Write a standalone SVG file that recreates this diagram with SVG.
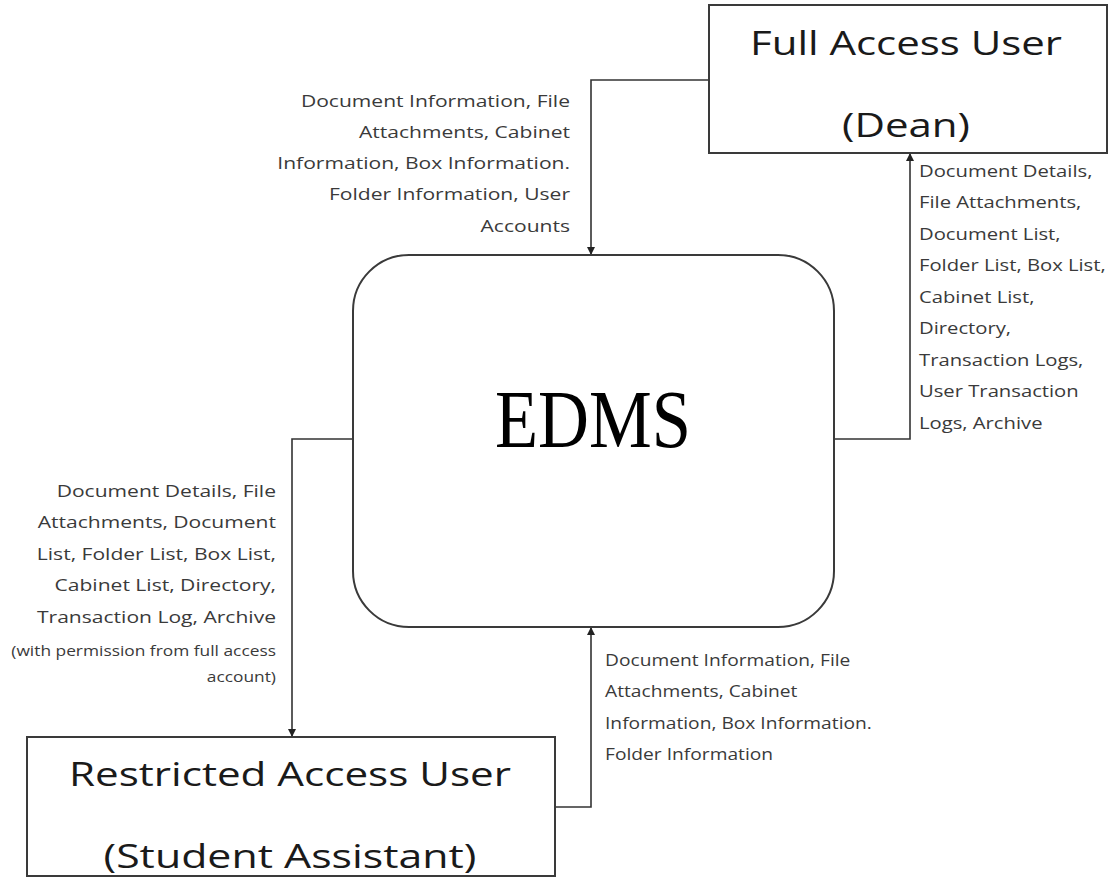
<svg xmlns="http://www.w3.org/2000/svg" width="1119" height="878" viewBox="0 0 1119 878">
  <defs>
    <marker id="arrow" viewBox="0 0 10 10" refX="10" refY="5" markerWidth="9" markerHeight="8" markerUnits="userSpaceOnUse" orient="auto">
      <path d="M0,0 L10,5 L0,10 z" fill="#222"/>
    </marker>
    <style>
      .box { fill: #fff; stroke: #3a3a3a; stroke-width: 2; }
      .node { font-family: "Open Sans", "Liberation Sans", sans-serif; font-size: 33px; fill: #1a1a1a; text-anchor: middle; }
      .edms { font-family: "Liberation Serif", "Times New Roman", serif; font-size: 83px; fill: #000; text-anchor: middle; }
      .conn { fill: none; stroke: #333; stroke-width: 1.6; marker-end: url(#arrow); }
      .lbl { font-family: "Open Sans", "Liberation Sans", sans-serif; font-size: 17px; fill: #3a3a3a; }
      .small { font-size: 14px; }
      .end { text-anchor: end; }
      .start { text-anchor: start; }
    </style>
  </defs>
  <rect width="1119" height="878" fill="#fff"/>

  <g id="connectors">
    <path class="conn" d="M709,80 H591 V255"/>
    <path class="conn" d="M834,439 H910 V153"/>
    <path class="conn" d="M353,439 H292 V737"/>
    <path class="conn" d="M555,807 H591 V627"/>
  </g>

  <g id="node-full-access">
    <rect class="box" x="709" y="5" width="398" height="148"/>
    <text class="node" x="906" y="55" textLength="312" lengthAdjust="spacingAndGlyphs">Full Access User</text>
    <text class="node" x="906" y="137" textLength="128" lengthAdjust="spacingAndGlyphs">(Dean)</text>
  </g>

  <g id="node-edms">
    <rect class="box" x="353" y="255" width="481" height="372" rx="56" ry="56"/>
    <text class="edms" x="593" y="447" textLength="196" lengthAdjust="spacingAndGlyphs">EDMS</text>
  </g>

  <g id="node-restricted">
    <rect class="box" x="27" y="737" width="528" height="139"/>
    <text class="node" x="290" y="786" textLength="442" lengthAdjust="spacingAndGlyphs">Restricted Access User</text>
    <text class="node" x="290" y="868" textLength="373" lengthAdjust="spacingAndGlyphs">(Student Assistant)</text>
  </g>

  <g id="labels">
    <g transform="translate(570,0) scale(1.24,1)">
      <text class="lbl end" x="0" y="107">Document Information, File</text>
      <text class="lbl end" x="0" y="138">Attachments, Cabinet</text>
      <text class="lbl end" x="0" y="169">Information, Box Information.</text>
      <text class="lbl end" x="0" y="200">Folder Information, User</text>
      <text class="lbl end" x="0" y="232">Accounts</text>
    </g>
    <g transform="translate(919,0) scale(1.19,1)">
      <text class="lbl start" x="0" y="177">Document Details,</text>
      <text class="lbl start" x="0" y="208">File Attachments,</text>
      <text class="lbl start" x="0" y="240">Document List,</text>
      <text class="lbl start" x="0" y="271">Folder List, Box List,</text>
      <text class="lbl start" x="0" y="303">Cabinet List,</text>
      <text class="lbl start" x="0" y="334">Directory,</text>
      <text class="lbl start" x="0" y="366">Transaction Logs,</text>
      <text class="lbl start" x="0" y="397">User Transaction</text>
      <text class="lbl start" x="0" y="429">Logs, Archive</text>
    </g>
    <g transform="translate(276,0) scale(1.24,1)">
      <text class="lbl end" x="0" y="497">Document Details, File</text>
      <text class="lbl end" x="0" y="528">Attachments, Document</text>
      <text class="lbl end" x="0" y="560">List, Folder List, Box List,</text>
      <text class="lbl end" x="0" y="591">Cabinet List, Directory,</text>
      <text class="lbl end" x="0" y="623">Transaction Log, Archive</text>
      <text class="lbl small end" x="0" y="656">(with permission from full access</text>
      <text class="lbl small end" x="0" y="682">account)</text>
    </g>
    <g transform="translate(605,0) scale(1.13,1)">
      <text class="lbl start" x="0" y="666">Document Information, File</text>
      <text class="lbl start" x="0" y="697">Attachments, Cabinet</text>
      <text class="lbl start" x="0" y="729">Information, Box Information.</text>
      <text class="lbl start" x="0" y="760">Folder Information</text>
    </g>
  </g>
</svg>
